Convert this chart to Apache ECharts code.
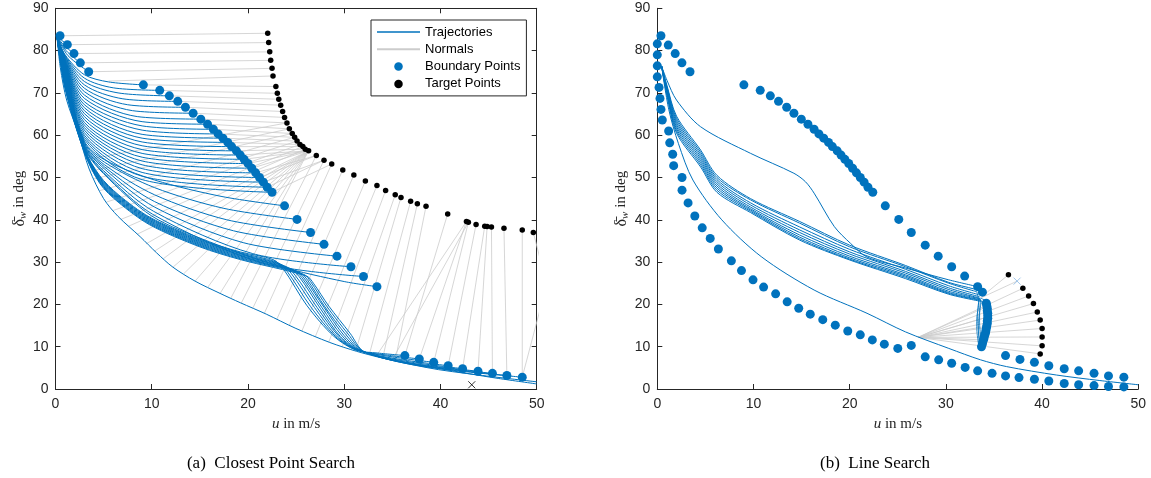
<!DOCTYPE html>
<html>
<head>
<meta charset="utf-8">
<script src="https://cdn.jsdelivr.net/npm/echarts@6/dist/echarts.min.js"></script>
<style>
html, body { margin: 0; padding: 0; background: #fff; }
#chart { width: 1151px; height: 478px; }
</style>
</head>
<body>
<div id="chart"></div>
<script>
// tick labels
const xTicks = [0, 10, 20, 30, 40, 50];
const yTicks = [0, 10, 20, 30, 40, 50, 60, 70, 80, 90];

// ---------- (a) closest point search ----------
// trajectories, [u, delta] waypoints
const trajLeft = [
  [[0.15,83.3],[0.6,82.5],[1.23,81.4]],
  [[0.15,83.3],[0.9,81.2],[1.92,79.3]],
  [[0.15,83.3],[1.1,80.0],[2.58,77.1]],
  [[0.15,83.3],[1.3,78.8],[3.45,75.0]],
  [[0.15,83.3],[1,79.0],[3,74.3],[5.5,72.6],[9.13,71.9]],
  [[0.15,83.3],[1,78.8],[3,73.5],[6,71.2],[10.83,70.6]],
  [[0.15,83.3],[1,78.6],[3,72.7],[6.5,70.0],[11.83,69.3]],
  [[0.15,83.3],[1,78.4],[3,71.9],[7,68.6],[12.7,68.0]],
  [[0.15,83.3],[1,78.2],[3,71.1],[7.5,67.2],[13.5,66.6]],
  [[0.15,83.3],[1,78.0],[3,70.3],[8,65.8],[14.3,65.2]],
  [[0.15,83.3],[1,77.8],[3,69.5],[8.5,64.4],[15.1,63.8]],
  [[0.15,83.3],[1,77.6],[3,68.7],[9,63.2],[15.8,62.6]],
  [[0.15,83.3],[1,77.4],[3,67.9],[9,62.2],[16.4,61.4]],
  [[0.15,83.3],[1,77.2],[3,67.2],[9,61.2],[16.9,60.3]],
  [[0.15,83.3],[1,77.0],[3,66.5],[9,60.2],[17.4,59.3]],
  [[0.15,83.3],[1,76.8],[3,65.8],[9,59.3],[17.9,58.3]],
  [[0.15,83.3],[1,76.6],[3,65.1],[9,58.4],[18.3,57.3]],
  [[0.15,83.3],[1,76.4],[3,64.4],[9,57.5],[18.8,56.3]],
  [[0.15,83.3],[1,76.2],[3,63.7],[9,56.6],[19.2,55.3]],
  [[0.15,83.3],[1,76.0],[3,63.0],[9,55.7],[19.6,54.3]],
  [[0.15,83.3],[1,75.8],[3,62.4],[9,54.8],[20.0,53.3]],
  [[0.15,83.3],[1,75.6],[3,61.8],[9,53.9],[20.4,52.2]],
  [[0.15,83.3],[1,75.4],[3,61.2],[9,53.0],[20.8,51.1]],
  [[0.15,83.3],[1,75.2],[3,60.6],[9,52.1],[21.2,50.0]],
  [[0.15,83.3],[1,75.0],[3,60.0],[9,51.2],[21.6,48.9]],
  [[0.15,83.3],[1,74.8],[3,59.5],[9,50.3],[22.0,47.7]],
  [[0.15,83.3],[1,74.6],[3,59.0],[9,49.5],[22.5,46.5]],
  [[0.15,83.3],[1,74.4],[3,58.6],[5.1,54.2],[10.3,49.4],[17.3,45.5],[23.8,43.3]],
  [[0.15,83.3],[1,74.2],[3,58.3],[5.1,53.6],[10.3,47.6],[17.5,42.7],[25.1,40.1]],
  [[0.15,83.3],[1,74.0],[3,58.0],[5.1,53.0],[10.3,45.9],[17.8,40.0],[26.5,37.0]],
  [[0.15,83.3],[1,73.8],[3,57.7],[5.1,52.5],[10.3,44.3],[18.5,37.4],[27.9,34.2]],
  [[0.15,83.3],[1,73.6],[3,57.5],[5.1,52.0],[10.3,43.0],[19.5,34.6],[29.25,31.4]],
  [[0.15,83.3],[1,73.4],[3,57.3],[5.0,51.6],[10.2,42.0],[20.5,32.0],[30.7,28.9]],
  [[0.15,83.3],[1,73.2],[3,57.1],[5.0,51.2],[10.1,41.3],[21.5,29.8],[32.0,26.6]],
  [[0.15,83.3],[1,73.0],[3,56.9],[5.0,50.9],[10.0,40.9],[16,34.8],[23.3,29.0],[30,25.4],[33.4,24.2]],
  [[0.15,83.3],[1,72.8],[3,56.8],[4.6,50.4],[6.5,46.0],[9.8,40.6],[15,35.4],[19.2,32.4],[22.6,30.6],[23.7,28.3],[26.1,19.8],[28.9,12.5],[31.2,9.2],[33.5,8.5],[36.3,7.9]],
  [[0.15,83.3],[1,72.6],[3,56.7],[4.6,50.2],[6.5,45.8],[9.8,40.4],[15,35.2],[19.2,32.2],[23.0,30.0],[24.1,27.7],[26.5,19.5],[29.1,12.4],[31.3,9.2],[34.5,8.0],[37.8,7.1]],
  [[0.15,83.3],[1,72.4],[3,56.6],[4.6,50.0],[6.5,45.6],[9.8,40.2],[15,35.0],[19.2,32.0],[23.4,29.5],[24.5,27.3],[26.9,19.3],[29.3,12.3],[31.4,9.2],[35,7.6],[39.3,6.3]],
  [[0.15,83.3],[1,72.2],[3,56.5],[4.6,49.8],[6.5,45.4],[9.8,40.0],[15,34.8],[19.2,31.8],[23.8,29.1],[24.9,26.9],[27.2,19.2],[29.5,12.3],[31.5,9.1],[35.5,7.1],[40.8,5.5]],
  [[0.15,83.3],[1,72.0],[3,56.4],[4.6,49.6],[6.5,45.2],[9.8,39.8],[15,34.6],[19.2,31.6],[24.2,28.7],[25.3,26.6],[27.5,19.1],[29.6,12.4],[31.6,9.1],[36,6.7],[42.3,4.8]],
  [[0.15,83.3],[1,71.8],[3,56.3],[4.6,49.4],[6.5,45.0],[9.8,39.6],[15,34.4],[19.2,31.4],[24.6,28.3],[25.6,26.3],[27.7,19.2],[29.8,12.5],[31.7,9.0],[36.5,6.3],[43.9,4.2]],
  [[0.15,83.3],[1,71.6],[3,56.2],[4.6,49.2],[6.5,44.8],[9.8,39.4],[15,34.2],[19.2,31.2],[25.0,27.9],[25.9,26.0],[27.9,19.3],[30.0,12.6],[31.8,9.0],[37,6.0],[45.4,3.7]],
  [[0.15,83.3],[1,71.4],[3,56.1],[4.6,49.0],[6.5,44.6],[9.8,39.2],[15,34.0],[19.2,31.0],[25.4,27.5],[26.2,25.7],[28.0,19.4],[30.2,12.8],[31.9,8.9],[37.5,5.7],[46.9,3.2]],
  [[0.15,83.3],[1,71.2],[3,56.0],[4.6,48.8],[6.5,44.4],[9.8,39.0],[15,33.8],[19.2,30.8],[25.8,27.1],[26.5,25.4],[28.2,19.5],[30.4,13.0],[32.0,8.9],[38,5.4],[48.5,2.8]],
  [[0.15,83.3],[1,71.0],[3,55.9],[4.6,48.6],[6.5,44.2],[9.8,38.8],[15,33.6],[19.2,30.6],[26.1,26.7],[26.8,25.0],[28.4,19.6],[30.6,13.2],[32.1,8.8],[38.5,5.1],[44,3.3],[50,1.7]],
  [[0.15,83.3],[0.5,76],[1.16,68.3],[2.37,60.4],[3.5,52],[5.0,45],[6.5,40.8],[8.8,36.0],[10.5,32.2],[12.2,28.8],[14.5,25.5],[17.1,22.6],[19.2,20.4],[21.9,17.7],[24.9,14.4],[28.5,11.0],[31.3,8.9],[34,7.3],[37,6.0],[40,4.8],[43,3.6],[46,2.5],[50,1.2]]
];

// normals: [from, to]
const normalsLeft = [
  [[0.47,83.5],[22.05,84.1]], [[1.23,81.4],[22.15,81.9]], [[1.92,79.3],[22.26,79.7]],
  [[2.58,77.1],[22.36,77.7]], [[3.45,75.0],[22.5,75.8]], [[5.5,72.8],[22.6,74.0]],
  [[9.13,71.9],[22.9,71.5]], [[10.83,70.6],[23.05,69.9]], [[11.83,69.3],[23.2,68.5]],
  [[12.7,68.0],[23.4,67.1]], [[13.5,66.6],[23.6,65.6]], [[14.3,65.2],[23.8,64.2]],
  [[15.1,63.8],[24.05,62.9]], [[15.8,62.6],[24.3,61.5]], [[16.4,61.4],[24.6,60.4]],
  [[16.9,60.3],[24.85,59.5]], [[17.4,59.3],[25.1,58.6]], [[17.9,58.3],[25.4,57.8]],
  [[18.3,57.3],[25.7,57.3]], [[18.8,56.3],[25.95,56.7]], [[19.2,55.3],[26.3,56.3]],
  [[19.6,54.3],[26.3,56.3]], [[20.0,53.3],[26.3,56.3]], [[20.4,52.2],[26.3,56.3]],
  [[20.8,51.1],[27.1,55.2]], [[21.2,50.0],[27.1,55.2]], [[21.6,48.9],[27.9,54.1]],
  [[22.0,47.7],[27.9,54.1]], [[22.5,46.5],[28.7,53.2]],
  [[3.2,54.2],[24.05,62.9]], [[3.6,51.5],[24.3,61.5]], [[4.0,49.7],[24.6,60.4]],
  [[4.6,46.9],[24.85,59.5]], [[5.3,44.2],[25.1,58.6]], [[6.0,42.2],[25.4,57.8]],
  [[6.8,40.1],[25.7,57.3]], [[7.6,38.5],[25.95,56.7]], [[8.5,36.6],[26.3,56.3]],
  [[9.4,34.3],[26.3,56.3]], [[10.3,32.6],[26.3,56.3]], [[11.2,30.8],[26.3,56.3]],
  [[12.2,28.8],[26.3,56.3]], [[13.3,27.2],[26.3,56.3]], [[14.5,25.5],[26.3,56.3]],
  [[15.8,24.0],[26.3,56.3]], [[17.1,22.6],[26.3,56.3]], [[18.2,21.4],[26.3,56.3]],
  [[19.3,20.3],[27.1,55.2]], [[20.5,19.1],[27.9,54.1]], [[21.7,17.9],[28.7,53.2]],
  [[23.0,16.5],[29.85,51.8]], [[24.3,15.1],[31.0,50.6]], [[25.6,13.7],[32.2,49.2]],
  [[27.0,12.4],[33.4,48.1]], [[28.4,11.1],[34.3,46.9]], [[29.8,10.0],[35.3,45.9]],
  [[31.2,9.0],[35.9,45.3]], [[32.6,8.1],[36.9,44.4]], [[34.0,7.3],[37.6,43.8]],
  [[35.3,6.7],[38.5,43.2]], [[33.3,7.7],[42.7,39.6]], [[35.0,6.9],[42.9,39.4]],
  [[36.3,7.9],[40.75,41.4]], [[37.8,7.1],[42.7,39.6]], [[39.3,6.3],[42.9,39.4]],
  [[40.8,5.5],[43.7,38.9]], [[42.3,4.8],[44.6,38.5]], [[43.9,4.2],[44.85,38.4]],
  [[45.4,3.7],[45.3,38.3]], [[46.9,3.2],[46.6,38.0]], [[48.5,2.8],[48.5,37.6]],
  [[48.5,2.8],[52.8,40.0]], [[49.65,37.0],[51.0,25.0]]
];

const boundaryLeft = [
  [0.47,83.5],[1.23,81.4],[1.92,79.3],[2.58,77.1],[3.45,75.0],
  [9.13,71.9],[10.83,70.6],[11.83,69.3],[12.7,68.0],[13.5,66.6],[14.3,65.2],[15.1,63.8],[15.8,62.6],
  [16.4,61.4],[16.9,60.3],[17.4,59.3],[17.9,58.3],[18.3,57.3],[18.8,56.3],[19.2,55.3],[19.6,54.3],
  [20.0,53.3],[20.4,52.2],[20.8,51.1],[21.2,50.0],[21.6,48.9],[22.0,47.7],[22.5,46.5],
  [23.8,43.3],[25.1,40.1],[26.5,37.0],[27.9,34.2],[29.25,31.4],[30.7,28.9],[32.0,26.6],[33.4,24.2],
  [36.3,7.9],[37.8,7.1],[39.3,6.3],[40.8,5.5],[42.3,4.8],[43.9,4.2],[45.4,3.7],[46.9,3.2],[48.5,2.8]
];

const targetLeft = [
  [22.05,84.1],[22.15,81.9],[22.26,79.7],[22.36,77.7],[22.5,75.8],[22.6,74.0],[22.9,71.5],
  [23.05,69.9],[23.2,68.5],[23.4,67.1],[23.6,65.6],[23.8,64.2],[24.05,62.9],[24.3,61.5],
  [24.6,60.4],[24.85,59.5],[25.1,58.6],[25.4,57.8],[25.7,57.3],[25.95,56.7],[26.3,56.3],
  [27.1,55.2],[27.9,54.1],[28.7,53.2],[29.85,51.8],[31.0,50.6],[32.2,49.2],[33.4,48.1],
  [34.3,46.9],[35.3,45.9],[35.9,45.3],[36.9,44.4],[37.6,43.8],[38.5,43.2],[40.75,41.4],
  [42.7,39.6],[42.9,39.4],[43.7,38.9],[44.6,38.5],[44.85,38.4],[45.3,38.3],[46.6,38.0],
  [48.5,37.6],[49.65,37.0]
];

const crossLeft = [[43.25,1.0]];

// ---------- (b) line search ----------
const trajRight = [
  [[0.45,76.3],[1.2,66],[2.2,58],[3.7,49.4],[6.7,40.0],[10.8,31.3],[16.3,23.4],[21.8,17.9],[25.8,13.5],[30.3,9.6],[33.6,6.9],[36.3,5.3],[41.5,3.3],[46,2.0],[50,1.0]],
  [[0.45,76.3],[1,73],[2,68.3],[4.5,62.0],[9.7,55.7],[14.2,51.0],[15.4,49.0],[16.3,46.3],[18.4,38.4],[20.1,34.4],[21.8,31.2],[25.8,28.6],[30.3,25.8],[33.3,24.2]],
  [[0.45,76.3],[1,71.8],[2,64.5],[4.5,56.5],[6.2,50.5],[9.7,45.0],[14.8,39.6],[20,34.0],[25.8,29.2],[30.3,25.2],[33.0,23.6],[33.8,22.9]],
  [[0.45,76.3],[1,71.5],[2,64.0],[4.5,56.0],[6.2,50.0],[9.7,44.7],[14.8,39.2],[20,33.6],[25.8,28.9],[30.3,25.0],[33.2,23.0]],
  [[0.45,76.3],[1,71.2],[2,63.5],[4.5,55.5],[6.2,49.5],[9.7,44.0],[14.8,38.3],[20,33.0],[25.8,28.3],[30.3,24.4],[33.4,22.3]],
  [[0.45,76.3],[1,70.9],[2,63.0],[4.5,55.0],[6.2,49.0],[9.7,43.5],[14.8,37.6],[20,32.4],[25.8,27.8],[30.3,23.9],[33.5,21.8]],
  [[0.45,76.3],[1,70.6],[2,62.5],[4.5,54.5],[6.2,48.5],[9.7,43.0],[14.8,37.0],[20,31.9],[25.8,27.4],[30.3,23.5],[33.5,21.5]],
  [[0.45,76.3],[1,70.3],[2,62.0],[4.5,54.0],[6.2,48.0],[9.7,42.6],[14.8,36.4],[20,31.4],[25.8,27.0],[30.3,23.1],[33.6,21.3]],
  [[0.45,76.3],[1,70.0],[2,61.5],[4.5,53.5],[6.2,47.5],[9.7,42.3],[14.8,35.9],[20,31.0],[25.8,26.7],[30.3,22.8],[33.6,21.1]],
  [[0.45,76.3],[1,69.7],[2,61.0],[4.5,53.0],[6.2,47.0],[9.7,42.0],[14.8,35.5],[20,30.7],[25.8,26.4],[30.3,22.6],[33.7,20.9]],
  [[0.45,76.3],[1,69.4],[2,60.5],[4.5,52.5],[6.2,46.5],[9.7,41.7],[14.8,35.2],[20,30.5],[25.8,26.1],[30.3,22.4],[33.7,20.7]]
];

// loops of the line search near the column of boundary points
const loopsRight = [
  [[33.2,23.0],[33.4,20.5],[33.2,16],[33.3,12],[33.6,10.2],[34.0,11],[34.2,15],[34.2,19],[33.9,21.3]],
  [[33.5,21.5],[33.3,18],[33.4,13],[33.7,10.6],[34.1,12.5],[34.3,17],[34.1,20.5],[33.6,21.5]],
  [[33.6,21.2],[33.5,17],[33.6,13],[33.8,11],[34.3,13.5],[34.4,18],[34.0,21]],
  [[33.7,20.8],[33.4,15],[33.7,10.1],[34.2,14],[34.2,19],[33.8,20.8]]
];

const normalsRight = [
  [[33.7,21.8],[36.5,27.0]], [[33.6,21.5],[37.4,25.5]],
  [[27.1,12.2],[38.0,23.8]], [[27.1,12.2],[38.6,22.0]], [[27.1,12.2],[39.1,20.2]],
  [[27.1,12.2],[39.5,18.2]], [[27.1,12.2],[39.8,16.3]], [[27.1,12.2],[40.0,14.3]],
  [[27.1,12.2],[40.0,12.3]], [[27.1,12.2],[40.0,10.2]], [[27.1,12.2],[39.8,8.3]],
  [[27.1,12.2],[34.2,19.4]], [[27.1,12.2],[34.3,17.0]], [[27.1,12.2],[34.2,14.8]],
  [[27.1,12.2],[34.0,11.6]]
];

const boundaryRight = [
  [0.38,83.5],[1.14,81.3],[1.86,79.3],[2.56,77.1],[3.4,75.0],
  [9.0,71.9],[10.7,70.6],[11.75,69.3],[12.6,68.0],[13.45,66.6],[14.2,65.2],[14.97,63.8],[15.66,62.6],
  [16.3,61.4],[16.8,60.3],[17.3,59.3],[17.8,58.3],[18.2,57.3],[18.7,56.3],[19.1,55.3],[19.5,54.3],
  [19.9,53.3],[20.3,52.2],[20.7,51.1],[21.1,50.0],[21.5,48.9],[21.9,47.7],[22.4,46.5],
  [23.7,43.3],[25.1,40.1],[26.4,37.0],[27.85,34.0],[29.2,31.4],[30.6,28.9],[31.95,26.7],[33.3,24.2],[33.8,22.9],
  [34.2,20.3],[34.25,19.7],[34.3,19.1],[34.3,18.5],[34.35,17.9],[34.35,17.3],[34.35,16.7],[34.3,16.1],
  [34.3,15.5],[34.25,14.9],[34.2,14.3],[34.15,13.7],[34.1,13.1],[34.0,12.5],[33.95,11.9],[33.85,11.3],
  [33.8,10.7],[33.7,10.0],
  [0.0,81.6],[0.0,79.0],[0.0,76.4],[0.0,73.8],[0.18,71.3],[0.28,68.7],[0.38,66.1],[0.52,63.6],
  [1.18,61.0],[1.29,58.2],[1.6,55.5],[1.7,52.8],[2.57,50.0],[2.57,47.0],
  [3.2,44.0],[3.9,40.9],[4.67,38.1],[5.5,35.6],[6.35,33.1],[7.7,30.3],[8.75,28.0],[9.95,25.8],
  [11.05,24.1],[12.3,22.5],[13.5,20.6],[14.7,19.1],[15.9,17.7],[17.2,16.4],[18.5,15.1],[19.8,13.7],
  [21.1,12.8],[22.35,11.6],[23.6,10.6],[25.0,9.6],[26.4,10.3],[27.85,7.6],[29.25,6.9],[30.6,6.1],
  [32.0,5.1],[33.3,4.3],[34.8,3.7],[36.2,3.1],[37.6,2.7],[39.2,2.3],[40.7,1.9],[42.3,1.3],
  [43.8,1.0],[45.4,0.8],[46.9,0.6],[48.5,0.5],
  [36.2,7.9],[37.7,7.0],[39.2,6.3],[40.7,5.5],[42.3,4.8],[43.8,4.3],[45.4,3.7],[46.9,3.1],[48.5,2.8]
];

const targetRight = [
  [36.5,27.0],[38.0,23.8],[38.6,22.0],[39.1,20.2],[39.5,18.2],
  [39.8,16.3],[40.0,14.3],[40.0,12.3],[40.0,10.2],[39.8,8.3]
];

const crossRight = [[37.4,25.5]];

// ---------- styling ----------
const BLUE = '#0072BD';
const AXIS = '#262626';
const SANS = '"Liberation Sans", Arial, sans-serif';
const SERIF = '"Liberation Serif", "DejaVu Serif", serif';
const CROSS = 'path://M0,0 L10,10 M10,0 L0,10';

// polylines joined with gaps so one series can hold them all
function joinPaths(paths) {
  const out = [];
  paths.forEach(function (p, i) {
    if (i) out.push([null, null]);
    p.forEach(function (q) { out.push(q); });
  });
  return out;
}

function xAxisFor(grid, position, showLabels) {
  return {
    type: 'value', gridIndex: grid, position: position,
    min: xTicks[0], max: xTicks[xTicks.length - 1], interval: xTicks[1] - xTicks[0],
    axisLine: { show: true, onZero: false, lineStyle: { color: AXIS, width: 1 } },
    axisTick: { show: true, inside: true, length: 5, lineStyle: { color: AXIS } },
    axisLabel: { show: showLabels, color: AXIS, fontSize: 14, fontFamily: SANS, margin: 8 },
    splitLine: { show: false },
    name: showLabels ? '{i|u}{t| in m/s}' : '',
    nameLocation: 'middle', nameGap: 28,
    nameTextStyle: {
      rich: {
        i: { fontFamily: SERIF, fontStyle: 'italic', fontSize: 15, color: AXIS },
        t: { fontFamily: SERIF, fontSize: 15, color: AXIS }
      }
    }
  };
}

function yAxisFor(grid, position, showLabels) {
  return {
    type: 'value', gridIndex: grid, position: position,
    min: yTicks[0], max: yTicks[yTicks.length - 1], interval: yTicks[1] - yTicks[0],
    axisLine: { show: true, onZero: false, lineStyle: { color: AXIS, width: 1 } },
    axisTick: { show: true, inside: true, length: 5, lineStyle: { color: AXIS } },
    axisLabel: { show: showLabels, color: AXIS, fontSize: 14, fontFamily: SANS, margin: 7 },
    splitLine: { show: false },
    name: showLabels ? '{d|δ\u0304}{s|w}{t| in deg}' : '',
    nameLocation: 'middle', nameGap: 27, nameRotate: 90,
    nameTextStyle: {
      rich: {
        d: { fontFamily: SERIF, fontSize: 16, color: AXIS, lineHeight: 18 },
        s: { fontFamily: SERIF, fontStyle: 'italic', fontSize: 11, color: AXIS, lineHeight: 12, verticalAlign: 'bottom' },
        t: { fontFamily: SERIF, fontSize: 15, color: AXIS, lineHeight: 18 }
      }
    }
  };
}

function lineSeries(name, data, x, y, color, width, z, extra) {
  return Object.assign({
    type: 'line', name: name, data: data, xAxisIndex: x, yAxisIndex: y,
    showSymbol: false, symbol: 'none', connectNulls: false, z: z,
    lineStyle: { color: color, width: width }, itemStyle: { color: color },
    emphasis: { disabled: true }, silent: true
  }, extra || {});
}

function scatterSeries(name, data, x, y, color, size, z) {
  return {
    type: 'scatter', name: name, data: data, xAxisIndex: x, yAxisIndex: y,
    symbol: 'circle', symbolSize: size, itemStyle: { color: color, opacity: 1 },
    clip: false, z: z, silent: true
  };
}

function crossSeries(data, x, y, color) {
  return {
    type: 'scatter', name: 'cross', data: data, xAxisIndex: x, yAxisIndex: y,
    symbol: CROSS, symbolSize: 7, clip: false, z: 6, silent: true,
    itemStyle: { color: 'none', borderColor: color, borderWidth: 1 }
  };
}

const smoothOpts = { smooth: 0.3 };

const chart = echarts.init(document.getElementById('chart'), null, { renderer: 'canvas' });

chart.setOption({
  animation: false,
  backgroundColor: '#fff',
  grid: [
    { left: 55.5, top: 8.3, width: 481.2, height: 380.7 },
    { left: 657.3, top: 8.3, width: 481, height: 380.7 }
  ],
  xAxis: [
    xAxisFor(0, 'bottom', true),
    xAxisFor(0, 'top', false),
    xAxisFor(1, 'bottom', true)
  ],
  yAxis: [
    yAxisFor(0, 'left', true),
    yAxisFor(0, 'right', false),
    yAxisFor(1, 'left', true)
  ],
  legend: {
    left: 371, top: 20, orient: 'vertical',
    padding: [5, 6, 5, 5], itemGap: 3.3, itemWidth: 43, itemHeight: 8.5,
    borderColor: AXIS, borderWidth: 1, backgroundColor: '#fff',
    selectedMode: false,
    textStyle: { fontSize: 13, fontFamily: SANS, color: '#000', lineHeight: 14 },
    data: [
      { name: 'Trajectories', lineStyle: { width: 1.6 }, itemStyle: { opacity: 0 } },
      { name: 'Normals', itemStyle: { opacity: 0 } },
      'Boundary Points', 'Target Points'
    ]
  },
  graphic: [
    { type: 'text', x: 271, y: 464, style: { text: '(a)  Closest Point Search', font: '17px ' + SERIF, fill: '#000', align: 'center', verticalAlign: 'middle' } },
    { type: 'text', x: 875, y: 464, style: { text: '(b)  Line Search', font: '17px ' + SERIF, fill: '#000', align: 'center', verticalAlign: 'middle' } }
  ],
  series: [
    // (a)
    lineSeries('Normals', joinPaths(normalsLeft), 0, 0, '#cccccc', 0.8, 1),
    lineSeries('Trajectories', joinPaths(trajLeft), 0, 0, BLUE, 1, 2, smoothOpts),
    scatterSeries('Boundary Points', boundaryLeft, 0, 0, BLUE, 9, 3),
    scatterSeries('Target Points', targetLeft, 0, 0, '#000', 5.5, 4),
    crossSeries(crossLeft, 0, 0, '#000'),
    // (b)
    lineSeries('Normals', joinPaths(normalsRight), 2, 2, '#cccccc', 0.8, 1),
    lineSeries('Trajectories', joinPaths(trajRight), 2, 2, BLUE, 1, 2, smoothOpts),
    lineSeries('Trajectories', joinPaths(loopsRight), 2, 2, BLUE, 0.8, 2, { smooth: 0.5 }),
    scatterSeries('Boundary Points', boundaryRight, 2, 2, BLUE, 9, 3),
    scatterSeries('Target Points', targetRight, 2, 2, '#000', 5.5, 4),
    crossSeries(crossRight, 2, 2, '#8ab9e6')
  ]
});
</script>
</body>
</html>
